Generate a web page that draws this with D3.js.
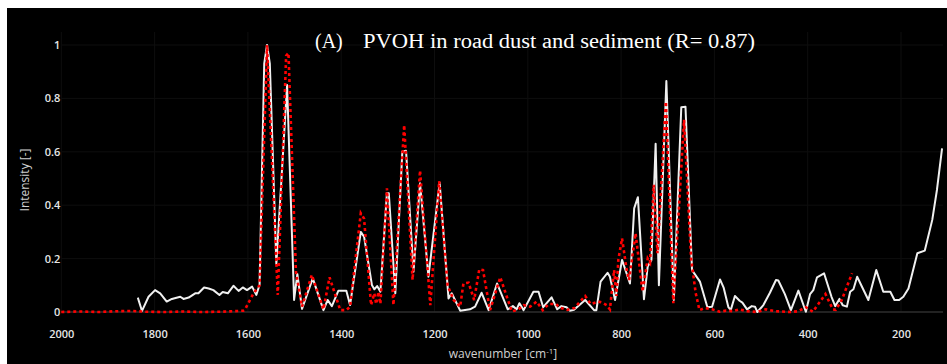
<!DOCTYPE html>
<html>
<head>
<meta charset="utf-8">
<script src="https://cdn.jsdelivr.net/npm/d3@7"></script>
<style>
  html, body { margin: 0; padding: 0; background: #ffffff; }
  svg { display: block; }
</style>
</head>
<body>
<svg id="chart" width="947" height="364"></svg>
<script>
// Measured spectrum (white) – wavenumber [cm^-1] and normalised intensity
const wnMeasured = [1836,1827,1813,1799,1788,1774,1763,1745,1738,1727,1713,1706,1694,1684,1674,1661,1654,1643,1631,1620,1611,1602,1591,1582,1575,1565,1559,1553,1539,1516,1501,1494,1484,1461,1438,1429,1420,1406,1389,1381,1358,1351,1334,1329,1323,1316,1302,1298,1284,1269,1261,1245,1231,1213,1189,1170,1163,1145,1124,1113,1099,1084,1066,1043,1032,1024,1018,1009,988,977,967,949,937,928,917,910,901,877,858,853,844,829,824,813,798,783,781,772,764,751,743,735,726,719,703,687,671,662,648,631,615,605,588,580,570,565,556,546,540,530,520,513,508,495,481,468,463,449,436,420,404,395,388,380,365,349,341,332,325,316,309,302,294,270,253,238,223,214,204,195,184,165,149,133,123,112];
const intMeasured = [0.054,0.004,0.057,0.082,0.070,0.039,0.049,0.057,0.049,0.054,0.070,0.070,0.092,0.088,0.082,0.064,0.075,0.070,0.098,0.079,0.092,0.082,0.095,0.064,0.101,0.930,1.000,0.930,0.180,0.850,0.045,0.142,0.012,0.126,0.007,0.045,0.022,0.080,0.080,0.026,0.300,0.282,0.100,0.085,0.097,0.076,0.445,0.445,0.070,0.600,0.604,0.151,0.482,0.132,0.484,0.051,0.070,0.005,0.010,0.020,0.072,0.007,0.107,0.010,0.022,0.010,0.033,0.007,0.076,0.076,0.018,0.055,0.010,0.022,0.018,0.005,0.008,0.045,0.007,0.007,0.114,0.147,0.132,0.045,0.195,0.117,0.107,0.388,0.430,0.048,0.170,0.195,0.630,0.100,0.865,0.045,0.767,0.769,0.157,0.114,0.018,0.020,0.122,0.090,0.018,0.007,0.060,0.042,0.035,0.010,0.022,0.020,0.000,0.026,0.072,0.120,0.118,0.067,0.007,0.080,0.001,0.067,0.082,0.130,0.145,0.057,0.022,0.049,0.025,0.020,0.076,0.085,0.132,0.045,0.157,0.076,0.076,0.045,0.045,0.057,0.088,0.220,0.230,0.345,0.457,0.613];

// PVOH reference spectrum (red dotted)
const wnReference = [2000,1960,1920,1880,1850,1820,1780,1740,1700,1660,1630,1610,1606,1588,1575,1559,1536,1518,1513,1497,1484,1463,1438,1425,1402,1389,1381,1358,1351,1336,1329,1325,1320,1316,1302,1288,1265,1247,1231,1209,1190,1172,1159,1145,1138,1127,1115,1104,1096,1081,1059,1045,1034,1020,1009,995,981,968,955,940,930,915,900,877,865,849,840,831,824,815,810,806,798,788,783,769,754,743,738,730,722,704,688,665,650,640,632,620,605,589,575,560,546,530,508,490,470,436,420,404,389,362,346,340,327,305];
const intReference = [0.000,0.002,0.000,0.003,0.004,0.001,0.000,0.002,0.000,0.001,0.003,0.005,0.010,0.070,0.100,1.000,0.064,0.960,0.970,0.150,0.020,0.139,0.010,0.130,0.007,0.007,0.020,0.370,0.350,0.026,0.070,0.030,0.076,0.030,0.463,0.026,0.700,0.120,0.530,0.026,0.490,0.100,0.045,0.020,0.107,0.110,0.045,0.160,0.157,0.007,0.130,0.057,0.002,0.010,0.026,0.020,0.039,0.007,0.030,0.030,0.015,0.008,0.015,0.060,0.030,0.039,0.035,0.026,0.010,0.157,0.060,0.195,0.276,0.157,0.120,0.295,0.076,0.200,0.185,0.476,0.220,0.788,0.033,0.720,0.200,0.070,0.007,0.015,0.010,0.001,0.005,0.003,0.010,0.003,0.000,0.010,0.003,0.000,0.003,0.018,0.001,0.067,0.010,0.008,0.045,0.145];

const xTickValues = [2000,1800,1600,1400,1200,1000,800,600,400,200];
const yTickValues = [0,0.2,0.4,0.6,0.8,1];
const titleTag = "(A)";
const titleText = "PVOH in road dust and sediment (R= 0.87)";

const svg = d3.select("#chart");

// dark panel
svg.append("rect").attr("x", 7).attr("y", 8).attr("width", 940).attr("height", 356).attr("fill", "#000");

const plotTop = 32, plotBottom = 312, plotLeft = 61.3, plotRight = 943;
const x = d3.scaleLinear().domain([2000, 110]).range([plotLeft, plotRight]);
const y = d3.scaleLinear().domain([0, 1]).range([plotBottom, 45]);

// grid
const grid = svg.append("g");
grid.selectAll("line.v").data(xTickValues).join("line")
  .attr("x1", d => x(d)).attr("x2", d => x(d))
  .attr("y1", plotTop).attr("y2", plotBottom)
  .attr("stroke", "#0e0e0e").attr("stroke-width", 1);
grid.selectAll("line.h").data(yTickValues.filter(d => d > 0)).join("line")
  .attr("x1", plotLeft).attr("x2", plotRight)
  .attr("y1", d => y(d)).attr("y2", d => y(d))
  .attr("stroke", "#0e0e0e").attr("stroke-width", 1);
// zero line
grid.append("line")
  .attr("x1", plotLeft).attr("x2", plotRight)
  .attr("y1", y(0)).attr("y2", y(0))
  .attr("stroke", "#2e2e2e").attr("stroke-width", 1.5);

// axes
const xAxis = d3.axisBottom(x).tickValues(xTickValues).tickSize(0).tickPadding(18.5).tickFormat(d3.format("d"));
const gx = svg.append("g").attr("transform", `translate(0,${plotBottom})`).call(xAxis);
gx.select(".domain").remove();
gx.selectAll("text").attr("fill", "#e6e6e6").style("font-family", "'Open Sans', sans-serif")
  .style("font-size", "11px").style("font-weight", "600");

const yAxis = d3.axisLeft(y).tickValues(yTickValues).tickSize(0).tickPadding(1)
  .tickFormat(d => d === 0 ? "0" : d === 1 ? "1" : d3.format(".1f")(d));
const gy = svg.append("g").attr("transform", `translate(${plotLeft},0)`).call(yAxis);
gy.select(".domain").remove();
gy.selectAll("text").attr("fill", "#e6e6e6").style("font-family", "'Open Sans', sans-serif")
  .style("font-size", "11px").style("font-weight", "600");

// axis titles
svg.append("text")
  .attr("transform", "translate(24,180) rotate(-90)")
  .attr("text-anchor", "middle").attr("dominant-baseline", "central")
  .attr("fill", "#d0d0d0").style("font-family", "'Open Sans', sans-serif").style("font-size", "12px")
  .text("Intensity [-]");

const xt = svg.append("text")
  .attr("x", 503).attr("y", 358)
  .attr("text-anchor", "middle")
  .attr("fill", "#d0d0d0").style("font-family", "'Open Sans', sans-serif").style("font-size", "12px");
xt.append("tspan").text("wavenumber [cm");
xt.append("tspan").attr("dy", -4).style("font-size", "8px").text("-1");
xt.append("tspan").attr("dy", 4).text("]");

// spectra
const measured = wnMeasured.map((w, i) => [w, intMeasured[i]]);
const reference = wnReference.map((w, i) => [w, intReference[i]]);
const line = d3.line().x(d => x(d[0])).y(d => y(d[1]));

svg.append("path").datum(measured)
  .attr("d", line).attr("fill", "none")
  .attr("stroke", "#f0f0f0").attr("stroke-width", 2).attr("stroke-linejoin", "round");

svg.append("path").datum(reference)
  .attr("d", line).attr("fill", "none")
  .attr("stroke", "#ff0000").attr("stroke-width", 2.6).attr("stroke-dasharray", "3,3");

// title
svg.append("text").attr("x", 315).attr("y", 48)
  .attr("fill", "#ffffff").style("font-family", "'Liberation Serif', serif").style("font-size", "20px")
  .text(titleTag);
svg.append("text").attr("x", 363).attr("y", 48)
  .attr("fill", "#ffffff").style("font-family", "'Liberation Serif', serif").style("font-size", "20px")
  .attr("textLength", 392).attr("lengthAdjust", "spacingAndGlyphs")
  .text(titleText);
</script>
</body>
</html>
